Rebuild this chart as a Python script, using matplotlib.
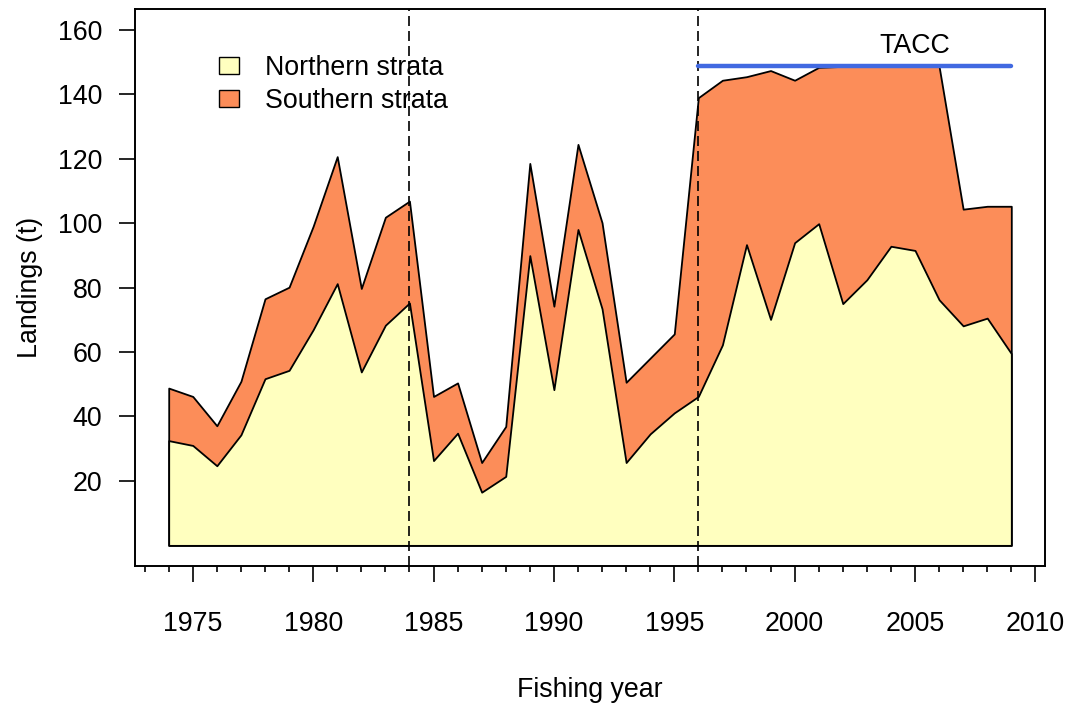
import numpy as np
import matplotlib
matplotlib.use('Agg')
import matplotlib.pyplot as plt
from matplotlib.patches import Patch

plt.rcParams['font.family'] = ['Liberation Sans', 'DejaVu Sans']

# fishing years and landings (t)
years = list(range(1974, 2010))
north = [32.5, 31.0, 24.7, 34.3, 51.7, 54.3, 66.9, 81.2, 53.8, 68.3, 75.2,
         26.3, 34.8, 16.5, 21.4, 89.9, 48.3, 98.0, 73.4, 25.7, 34.6, 41.1,
         46.2, 62.2, 93.3, 70.1, 93.9, 99.8, 75.0, 82.4, 92.8, 91.5, 76.2,
         68.1, 70.5, 59.5]
total = [48.8, 46.2, 37.1, 50.9, 76.5, 80.1, 99.0, 120.6, 79.7, 101.8, 106.8,
         46.2, 50.4, 25.7, 36.9, 118.5, 74.2, 124.4, 100.1, 50.6, 58.1, 65.6,
         138.9, 144.3, 145.4, 147.3, 144.3, 148.3, 148.6, 148.6, 148.6, 148.6,
         148.6, 104.3, 105.2, 105.2]

tacc_years = [1996, 2009]
tacc_value = 148.6
break_years = [1984, 1996]

col_north = '#FFFFBF'
col_south = '#FC8D59'
fs = 19.3

fig = plt.figure(figsize=(10.68, 7.04), dpi=100)
ax = fig.add_axes([135/1068, 1 - 566/704, 910/1068, 557/704])

ax.fill_between(years, 0, total, facecolor=col_south, edgecolor='black',
                linewidth=1.3, joinstyle='round', zorder=2)
ax.fill_between(years, 0, north, facecolor=col_north, edgecolor='black',
                linewidth=1.3, joinstyle='round', zorder=3)

for yr in break_years:
    ax.axvline(yr, color='black', linewidth=1.2, linestyle=(0, (6, 3)), zorder=4)

ax.plot(tacc_years, [tacc_value, tacc_value], color='#4169E1', linewidth=3.2,
        solid_capstyle='round', zorder=5)
ax.text(2005.0, 155.0, 'TACC', fontsize=fs, ha='center', va='center')

ax.set_xlim(1972.6, 2010.4)
ax.set_ylim(-6.4, 166.4)
ax.set_xticks(range(1975, 2011, 5))
ax.set_xticks([y for y in range(1973, 2011) if y % 5 != 0], minor=True)
ax.set_yticks(range(20, 161, 20))

ax.tick_params(axis='both', which='major', labelsize=fs, length=11.5, width=1.2)
ax.tick_params(axis='x', which='major', pad=21)
ax.tick_params(axis='y', which='major', pad=12)
ax.tick_params(axis='x', which='minor', length=4.5, width=1.2)
for s in ax.spines.values():
    s.set_linewidth(1.4)

ax.set_xlabel('Fishing year', fontsize=fs, labelpad=29)
ax.set_ylabel('Landings (t)', fontsize=fs, labelpad=11)

handles = [Patch(facecolor=col_north, edgecolor='black', linewidth=1),
           Patch(facecolor=col_south, edgecolor='black', linewidth=1)]
ax.legend(handles, ['Northern strata', 'Southern strata'], loc='upper left',
          bbox_to_anchor=((219 - 135) / 910, (566 - 55) / 557),
          frameon=False, fontsize=fs, handlelength=0.75, handleheight=0.6,
          handletextpad=0.95, labelspacing=0.25, borderpad=0, borderaxespad=0)

fig.savefig('out.png', dpi=100)
